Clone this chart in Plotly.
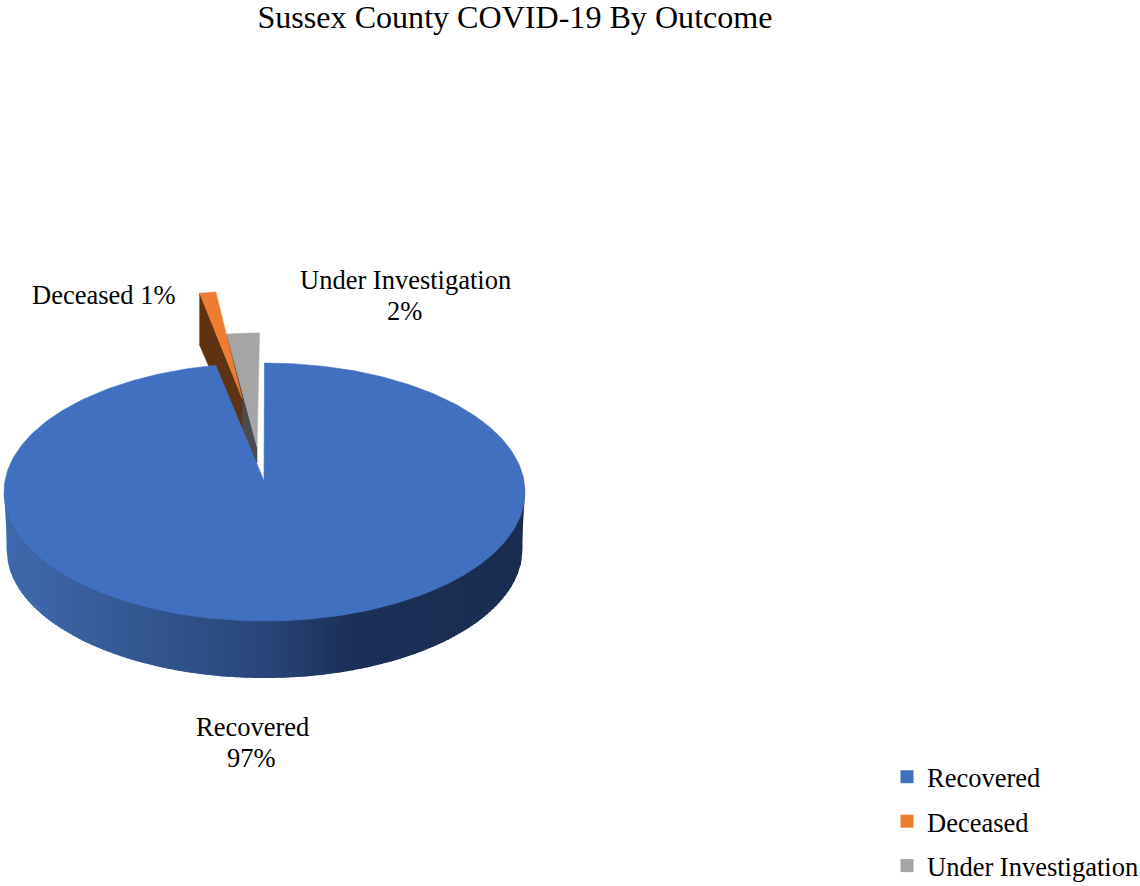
import numpy as np
import plotly.graph_objects as go

# ---- data ----
categories = ["Recovered", "Deceased", "Under Investigation"]
values = [97, 1, 2]
title_text = "Sussex County COVID-19 By Outcome"

# ---- style / layout ----
top_colors = ["#4270c0", "#ed7d31", "#a5a5a5"]
wall_colors = [None, "#5f3312", "#4b4b4b"]
FONT = "Liberation Serif"
W, H = 1140, 886
CX, CY, RX, RY = 264.5, 492.0, 260.5, 129.0
WALL_CY, WALL_RX = 549.0, 258.0
# offset of outer arc and apex of each slice, in pixels
arc_shift = [(0, 0), (-16, -72), (-5, -30)]
apex = [(264, 481), (242, 398), (257, 447)]
wall_depth = [0, 45, 16]
arc_depth = [0, 52, 2]
wall_knee = [None, None, (236, 430)]
GRAD = [(6, (63, 104, 173)), (150, (51, 86, 143)), (264, (40, 70, 122)),
        (350, (27, 48, 88)), (525, (25, 44, 80))]


def grad_color(x):
    xs = [g[0] for g in GRAD]
    rgb = [np.interp(x, xs, [g[1][i] for g in GRAD]) for i in range(3)]
    return "rgb(%d,%d,%d)" % tuple(int(round(c)) for c in rgb)


def arc(a0, a1, dx=0.0, dy=0.0, n=120):
    t = np.radians(np.linspace(a0, a1, n))
    return CX + dx + RX * np.sin(t), CY + dy - RY * np.cos(t)


fig = go.Figure()


def poly(xs, ys, color, name=None, group=None, lw=0.6):
    fig.add_trace(go.Scatter(
        x=list(xs) + [xs[0]], y=list(ys) + [ys[0]], mode="lines", fill="toself",
        fillcolor=color, line=dict(color=color, width=lw),
        hoverinfo="text" if name else "skip", text=name, name=name or "",
        showlegend=False, legendgroup=group))


# angular extent of every slice, clockwise from 12 o'clock
total = sum(values)
edges = np.concatenate([[0], np.cumsum(values)]) * 360.0 / total

# exploded small slices: drawn last-to-first so that the big slice sits in front
for i in [2, 1]:
    a0, a1 = edges[i], edges[i + 1]
    ax, ay = arc_shift[i]
    xs, ys = arc(a0, a1, ax, ay, 20)
    px, py = apex[i]
    wx = [xs[0], xs[0]]
    wy = [ys[0], ys[0] + arc_depth[i]]
    if wall_knee[i]:
        wx.append(wall_knee[i][0])
        wy.append(wall_knee[i][1])
    poly(wx + [px, px], wy + [py + wall_depth[i], py], wall_colors[i])
    poly(list(xs) + [px], list(ys) + [py], top_colors[i], f"{categories[i]} {values[i]}%", categories[i])

# outer wall of the big slice, shaded in vertical strips; each strip runs under the next
STEP = 3.0
left, right = CX - WALL_RX, CX + WALL_RX


def wall_bottom(x):
    u = np.clip((x - CX) / WALL_RX, -1, 1)
    return WALL_CY + RY * np.sqrt(1 - u ** 2)


# slanted side slivers between the top rim and the narrower lower rim
poly([CX - RX, left + 1, left + 1], [CY, CY, WALL_CY], grad_color(left), lw=0)
poly([CX + RX, right - 1, right - 1], [CY, CY, WALL_CY], grad_color(right), lw=0)

for x0 in np.arange(left, right, STEP):
    x1 = min(x0 + STEP + 1.5, right)
    xm = np.linspace(x0, x1, 4)
    col = grad_color(x0 + STEP / 2)
    fig.add_trace(go.Scatter(
        x=[x0] + list(xm) + [x1, x0], y=[CY] + list(wall_bottom(xm)) + [CY, CY],
        mode="lines", fill="toself", fillcolor=col, line=dict(width=0),
        hoverinfo="skip", showlegend=False))

# top of the big slice
xs, ys = arc(edges[0], edges[1], n=360)
poly(list(xs) + [apex[0][0]], list(ys) + [apex[0][1]], top_colors[0],
     f"{categories[0]} {values[0]}%", categories[0])

# legend keys
for c, col in zip(categories, top_colors):
    fig.add_trace(go.Scatter(x=[None], y=[None], mode="markers", name=c, legendgroup=c,
                             marker=dict(symbol="square", size=13, color=col)))

LABEL = 26.5
labels = [
    (f"{categories[0]}", 252, 727), (f"{values[0]}%", 251, 758),
    (f"{categories[1]} {values[1]}%", 103, 295),
    (f"{categories[2]}", 405, 280), (f"{values[2]}%", 404, 311),
]
annotations = [dict(x=x, y=y, text=t, showarrow=False, xref="x", yref="y",
                    font=dict(family=FONT, size=LABEL, color="#000")) for t, x, y in labels]

fig.update_layout(
    width=W, height=H, autosize=False, margin=dict(l=0, r=0, t=0, b=0, autoexpand=False),
    paper_bgcolor="white", plot_bgcolor="white",
    xaxis=dict(range=[0, W], visible=False, fixedrange=True),
    yaxis=dict(range=[H, 0], visible=False, fixedrange=True),
    title=dict(text=title_text, x=515 / W, xanchor="center", y=1 - 17 / H, yanchor="middle",
               font=dict(family=FONT, size=32.1, color="#000")),
    annotations=annotations,
    legend=dict(x=887 / W, xanchor="left", y=1 - 753 / H, yanchor="top", traceorder="grouped",
                tracegroupgap=7, font=dict(family=FONT, size=LABEL, color="#000"),
                bgcolor="rgba(0,0,0,0)", borderwidth=0),
)

fig.write_html("out.html", config=dict(displayModeBar=False),
               post_script="document.body.style.margin='0';document.documentElement.style.overflow='hidden';")
